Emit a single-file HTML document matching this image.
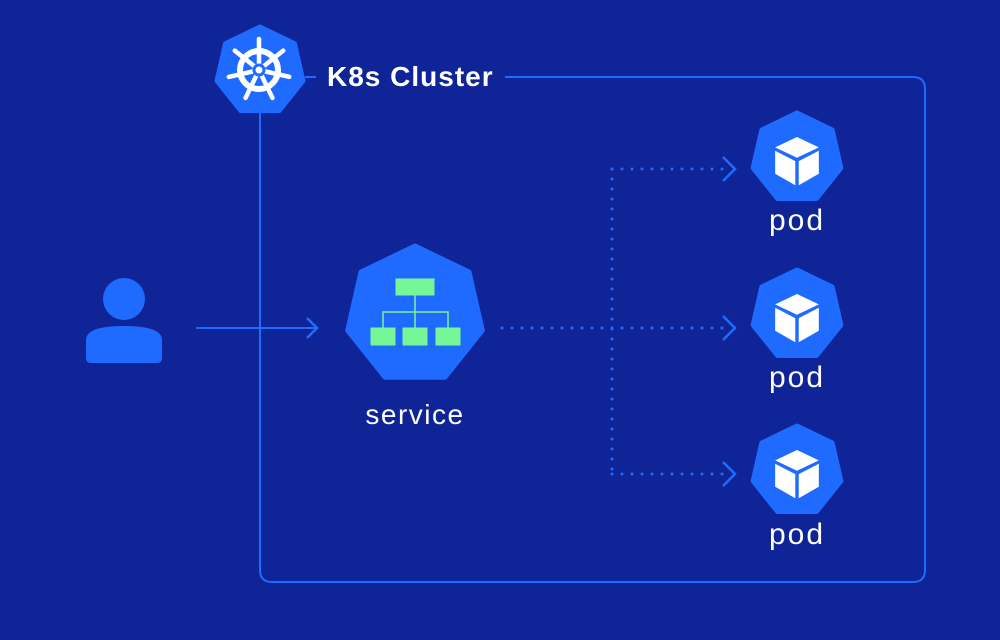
<!DOCTYPE html>
<html><head><meta charset="utf-8"><style>
html,body{margin:0;padding:0;background:#0f2496;}
svg{display:block}
text{font-family:"Liberation Sans",sans-serif;fill:#fff;}
</style></head><body>
<svg width="1000" height="640" viewBox="0 0 1000 640">
<rect width="1000" height="640" fill="#0f2496"/>
<defs>
<polygon id="hep" points="0,-45 35.2,-28 43.9,10 19.5,40.5 -19.5,40.5 -43.9,10 -35.2,-28" fill="#1f6bff" stroke="#1f6bff" stroke-width="5" stroke-linejoin="round"/>
<g id="cube">
<polygon points="0,-20 19,-11 0,-2 -19,-11" fill="#fff"/>
<polygon points="-19,-8 -1.5,1 -1.5,22 -19,12" fill="#fff"/>
<polygon points="19,-8 1.5,1 1.5,22 19,12" fill="#fff"/>
</g>
</defs>
<!-- cluster border -->
<path d="M505 77 H913 Q925 77 925 89 V570 Q925 582 913 582 H272 Q260 582 260 570 V110" fill="none" stroke="#1f6bff" stroke-width="2"/>
<line x1="305" y1="77" x2="316" y2="77" stroke="#1f6bff" stroke-width="2"/>
<!-- k8s -->
<use href="#hep" transform="translate(260,71) scale(0.98)"/>
<g stroke="#fff" stroke-linecap="round" fill="none" transform="translate(259,70)">
<circle r="19" stroke-width="6"/>
<g stroke-width="4.5">
<line x1="0" y1="0" x2="0" y2="-31"/>
<line x1="0" y1="0" x2="0" y2="-31" transform="rotate(51.4)"/>
<line x1="0" y1="0" x2="0" y2="-31" transform="rotate(102.8)"/>
<line x1="0" y1="0" x2="0" y2="-31" transform="rotate(154.3)"/>
<line x1="0" y1="0" x2="0" y2="-31" transform="rotate(205.7)"/>
<line x1="0" y1="0" x2="0" y2="-31" transform="rotate(257.1)"/>
<line x1="0" y1="0" x2="0" y2="-31" transform="rotate(308.6)"/>
</g>
<circle r="5" fill="#fff" stroke="#1f6bff" stroke-width="3"/>
</g>
<text x="327" y="86" font-size="28" font-weight="bold" letter-spacing="1">K8s Cluster</text>
<!-- person -->
<circle cx="124" cy="299" r="21" fill="#1f6bff"/>
<path d="M86 340 Q86 326 124 326 Q162 326 162 340 V358 Q162 363 157 363 H91 Q86 363 86 358 Z" fill="#1f6bff"/>
<!-- arrow -->
<line x1="196" y1="328" x2="317" y2="328" stroke="#1f6bff" stroke-width="2"/>
<polyline points="307,318 317,328 307,338" fill="none" stroke="#1f6bff" stroke-width="2.5"/>
<!-- service -->
<polygon points="415,246 469,272 482.3,330.4 445,377.2 385,377.2 347.7,330.4 361,272" fill="#1f6bff" stroke="#1f6bff" stroke-width="5" stroke-linejoin="round"/>
<g fill="#76f797" stroke="#76f797">
<rect x="396" y="279" width="38" height="16" stroke-width="1"/>
<rect x="371" y="328" width="24" height="17" stroke-width="1"/>
<rect x="403" y="328" width="24" height="17" stroke-width="1"/>
<rect x="436" y="328" width="24" height="17" stroke-width="1"/>
<path d="M415 295 V328 M383 328 V312 H448 V328" fill="none" stroke-width="1.5"/>
</g>
<text x="415" y="424" font-size="28" letter-spacing="1.5" text-anchor="middle">service</text>
<!-- dotted connectors -->
<g stroke="#1f6bff" stroke-width="3" stroke-linecap="round" stroke-dasharray="0 10" fill="none">
<line x1="502" y1="328" x2="728" y2="328"/>
<line x1="612" y1="169" x2="612" y2="474"/>
<line x1="612" y1="169" x2="728" y2="169"/>
<line x1="612" y1="474" x2="728" y2="474"/>
</g>
<g fill="none" stroke="#1f6bff" stroke-width="2.5">
<polyline points="723,157 735,169 723,181"/>
<polyline points="723,316 735,328 723,340"/>
<polyline points="723,462 735,474 723,486"/>
</g>
<!-- pods -->
<use href="#hep" transform="translate(797,158)"/>
<use href="#cube" transform="translate(797,160) scale(1.15)"/>
<text x="797" y="230" font-size="30" letter-spacing="2" text-anchor="middle">pod</text>
<use href="#hep" transform="translate(797,315)"/>
<use href="#cube" transform="translate(797,317) scale(1.15)"/>
<text x="797" y="387" font-size="30" letter-spacing="2" text-anchor="middle">pod</text>
<use href="#hep" transform="translate(797,471)"/>
<use href="#cube" transform="translate(797,473) scale(1.15)"/>
<text x="797" y="544" font-size="30" letter-spacing="2" text-anchor="middle">pod</text>
</svg>
</body></html>
